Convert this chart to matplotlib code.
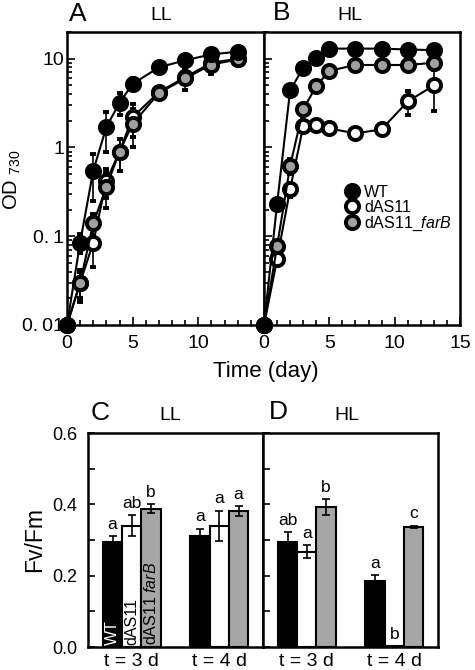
import numpy as np
import matplotlib
matplotlib.use("Agg")
import matplotlib.pyplot as plt
from matplotlib.ticker import FixedLocator, MultipleLocator, NullFormatter, LogLocator

plt.rcParams['font.family'] = ['Liberation Sans', 'DejaVu Sans']
plt.rcParams['mathtext.fontset'] = 'custom'
plt.rcParams['mathtext.rm'] = 'Liberation Sans'
plt.rcParams['mathtext.it'] = 'Liberation Sans:italic'
plt.rcParams['mathtext.default'] = 'regular'

# growth curves (OD730)
days = [0, 1, 2, 3, 4, 5, 7, 9, 11, 13]

wt_ll = [0.01, 0.085, 0.55, 1.7, 3.2, 5.2, 8.0, 9.6, 11.2, 12.0]
wt_ll_err = [0, 0.02, 0.3, 0.8, 0.9, 0.8, 0.5, 0.8, 1.0, 0.8]
das_ll = [0.01, 0.03, 0.085, 0.42, 0.9, 2.2, 4.2, 6.2, 9.0, 10.0]
das_ll_err = [0, 0.01, 0.04, 0.15, 0.35, 0.9, 0.6, 1.0, 1.5, 1.0]
farb_ll = [0.01, 0.03, 0.14, 0.36, 0.9, 1.85, 4.1, 6.0, 8.6, 9.8]
farb_ll_err = [0, 0.012, 0.04, 0.15, 0.35, 0.85, 0.6, 1.5, 1.8, 1.0]

wt_hl = [0.01, 0.23, 4.4, 7.9, 10.3, 13.0, 13.0, 13.0, 12.7, 12.5]
wt_hl_err = [0, 0.02, 0.3, 0.3, 0.3, 0.3, 0.3, 0.3, 0.3, 0.3]
das_hl = [0.01, 0.055, 0.34, 1.73, 1.78, 1.64, 1.44, 1.6, 3.3, 5.0]
das_hl_err = [0, 0.008, 0.06, 0.1, 0.1, 0.1, 0.1, 0.1, 1.0, 2.4]
farb_hl = [0.01, 0.077, 0.62, 2.7, 4.9, 7.3, 8.5, 8.5, 8.5, 9.0]
farb_hl_err = [0, 0.01, 0.12, 0.2, 0.3, 0.3, 0.3, 0.3, 0.3, 0.3]

# Fv/Fm
groups = ['t = 3 d', 't = 4 d']
fv_ll = {'wt': [0.295, 0.31], 'das': [0.34, 0.34], 'farb': [0.388, 0.381]}
fv_ll_err = {'wt': [0.015, 0.022], 'das': [0.03, 0.042], 'farb': [0.012, 0.013]}
fv_ll_lett = {'wt': ['a', 'a'], 'das': ['ab', 'a'], 'farb': ['b', 'a']}
fv_hl = {'wt': [0.293, 0.186], 'das': [0.267, 0.003], 'farb': [0.393, 0.337]}
fv_hl_err = {'wt': [0.03, 0.015], 'das': [0.018, 0.0], 'farb': [0.022, 0.003]}
fv_hl_lett = {'wt': ['ab', 'a'], 'das': ['a', 'b'], 'farb': ['b', 'c']}

W, H = 475, 670
fig = plt.figure(figsize=(4.75, 6.7), dpi=100)

def box(l, t, r, b):
    return [l / W, 1 - b / H, (r - l) / W, (b - t) / H]

axA = fig.add_axes(box(67, 32, 264, 325))
axB = fig.add_axes(box(264, 32, 460, 325))
axC = fig.add_axes(box(88, 433, 263, 647))
axD = fig.add_axes(box(263, 433, 438, 647))

gray = '#a0a0a0'
styles = {
    'wt': dict(marker='o', mfc='black', mec='black', color='black'),
    'das': dict(marker='o', mfc='white', mec='black', color='black'),
    'farb': dict(marker='o', mfc=gray, mec='black', color='black'),
}

def curve(ax, y, err, key, label=None):
    ax.errorbar(days, y, yerr=err, lw=1.5, ms=9.5, mew=2.8, elinewidth=1.2,
                capsize=2.5, capthick=1.2, clip_on=False, zorder=3,
                label=label, **styles[key])

curve(axA, das_ll, das_ll_err, 'das')
curve(axA, farb_ll, farb_ll_err, 'farb')
curve(axA, wt_ll, wt_ll_err, 'wt')
curve(axB, das_hl, das_hl_err, 'das', 'dAS11')
curve(axB, farb_hl, farb_hl_err, 'farb', 'dAS11_$\\it{farB}$')
curve(axB, wt_hl, wt_hl_err, 'wt', 'WT')

for ax in (axA, axB):
    ax.set_yscale('log')
    ax.set_ylim(0.01, 20)
    ax.set_xlim(0, 15)
    ax.xaxis.set_major_locator(MultipleLocator(5))
    ax.xaxis.set_minor_locator(MultipleLocator(1))
    ax.yaxis.set_major_locator(FixedLocator([0.01, 0.1, 1, 10]))
    ax.yaxis.set_minor_locator(LogLocator(base=10, subs=np.arange(2, 10)))
    ax.yaxis.set_minor_formatter(NullFormatter())
    ax.tick_params(which='both', direction='in', width=1.2, labelsize=14)
    ax.tick_params(which='major', length=6)
    ax.tick_params(axis='x', pad=7)
    ax.tick_params(which='minor', length=3.5)
    for s in ax.spines.values():
        s.set_linewidth(1.8)

axA.set_yticklabels(['0.\u200901', '0.\u20091', '1', '10'])
axA.set_xticks([0, 5, 10])
axA.tick_params(axis='y', pad=2)
axB.set_yticklabels([])
fig.text(12 / W, 1 - 180 / H, 'OD $_{730}$', rotation=90, ha='center', va='center', fontsize=14.5)
fig.text(266 / W, 1 - 371 / H, 'Time (day)', ha='center', va='center', fontsize=16)

h, l = axB.get_legend_handles_labels()
order = [2, 0, 1]
leg = axB.legend([h[i][0] for i in order], [l[i] for i in order], loc='upper left',
                 bbox_to_anchor=(0.38, 0.50), frameon=False, fontsize=11.5,
                 handlelength=0.9, handletextpad=0.3, labelspacing=0.0,
                 borderaxespad=0)

# bar panels
x = np.arange(len(groups)) + 0.5
bw = 0.22
keys = ['wt', 'das', 'farb']
fills = {'wt': 'black', 'das': 'white', 'farb': '#a6a6a6'}

def bars(ax, vals, errs, letts):
    for i, k in enumerate(keys):
        pos = x + (i - 1) * bw
        ax.bar(pos, vals[k], bw, color=fills[k], edgecolor='black', linewidth=1.5, zorder=2)
        ax.errorbar(pos, vals[k], yerr=errs[k], fmt='none', ecolor='black',
                    elinewidth=1.2, capsize=3, capthick=1.2, zorder=3)
        for p, v, e, t in zip(pos, vals[k], errs[k], letts[k]):
            ax.text(p, v + e + 0.012, t, ha='center', va='bottom', fontsize=12.5)
    ax.set_xlim(0, 2)
    ax.set_ylim(0, 0.6)
    ax.set_xticks(x)
    ax.set_xticklabels(groups, fontsize=14)
    ax.tick_params(axis='x', length=0, pad=4)
    ax.yaxis.set_major_locator(MultipleLocator(0.1))
    ax.tick_params(axis='y', direction='in', length=5, width=1.2, labelsize=13, pad=8)
    for s in ax.spines.values():
        s.set_linewidth(1.8)

bars(axC, fv_ll, fv_ll_err, fv_ll_lett)
bars(axD, fv_hl, fv_hl_err, fv_hl_lett)
axC.set_yticks([0, 0.1, 0.2, 0.3, 0.4, 0.5, 0.6])
axC.set_yticklabels(['0.0', '', '0.2', '', '0.4', '', '0.6'])
axD.set_yticklabels([])
axC.set_ylabel('Fv/Fm', fontsize=16.5, labelpad=4)

# labels inside first bars of C
for i, (t, c) in enumerate(zip(['WT', 'dAS11', 'dAS11 $\\it{farB}$'], ['white', 'black', 'black'])):
    axC.text(x[0] + (i - 1) * bw, 0.006, t, rotation=90, ha='center', va='bottom',
             color=c, fontsize=11.5)

# panel letters and conditions
for px, py, t, fs in [(78, 14, 'A', 19), (161, 15, 'LL', 14), (282, 13, 'B', 19), (350, 15, 'HL', 14),
                      (100, 413, 'C', 19), (170, 416, 'LL', 14), (278, 412, 'D', 19), (347, 416, 'HL', 14)]:
    fig.text(px / W, 1 - py / H, t, ha='center', va='center', fontsize=fs)

fig.savefig('out.png', dpi=100)
